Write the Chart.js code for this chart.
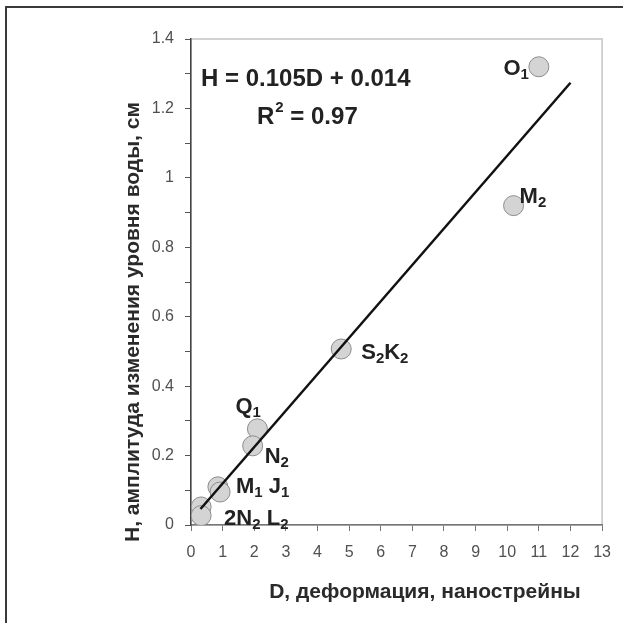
<!DOCTYPE html>
<html>
<head>
<meta charset="utf-8">
<script src="https://cdn.jsdelivr.net/npm/chart.js@4/dist/chart.umd.min.js"></script>
<style>
  html, body { margin: 0; padding: 0; background: #fff; }
  #wrap { position: relative; width: 623px; height: 623px; }
  #frame { position: absolute; left: 5px; top: 6px; right: 0; bottom: 0;
           border-top: 2px solid #3a3a3a; border-left: 2px solid #3a3a3a; }
  #wrap canvas { position: absolute; left: 0; top: 0; }
</style>
</head>
<body>
<div id="wrap">
  <div id="frame"></div>
  <canvas id="chart" width="623" height="623"></canvas>
</div>
<script>
// --- DATOS ---
const waveNames = ['O1', 'M2', 'S2K2', 'Q1', 'N2', 'M1', 'J1', '2N2', 'L2'];
const deformD = [11.0, 10.2, 4.75, 2.1, 1.95, 0.85, 0.92, 0.32, 0.32];
const amplitudeH = [1.32, 0.92, 0.507, 0.277, 0.228, 0.11, 0.095, 0.052, 0.027];
// подписи точек: [текст, индекс] пары (индекс = подстрочный)
const pointLabels = [
  [['O', '1']],
  [['M', '2']],
  [['S', '2'], ['K', '2']],
  [['Q', '1']],
  [['N', '2']],
  [['M', '1'], [' J', '1']],
  [],
  [],
  [['2N', '2'], [' L', '2']]
];
const trendD = [0.3, 12.0];
const trendH = [0.046, 1.274];
const xTicks = [0, 13, 1];
const yTicks = [0, 1.4, 0.1];
const xTitle = 'D, деформация, нанострейны';
const yTitle = 'H, амплитуда изменения уровня воды, см';
const eqText = 'H = 0.105D + 0.014';
const r2Text = ['R', '2', ' = 0.97'];

// смещения подписей относительно точки (px), базовая линия
const labelPlace = [
  { dx: -10, dy: 8, align: 'right' },
  { dx: 6, dy: -3, align: 'left' },
  { dx: 20, dy: 10, align: 'left' },
  { dx: -22, dy: -16, align: 'left' },
  { dx: 12, dy: 17, align: 'left' },
  { dx: 18, dy: 6, align: 'left' },
  null, null,
  { dx: 23, dy: 9, align: 'left' }
];

const FONT = '"Liberation Sans", Arial, sans-serif';

function drawSubText(ctx, parts, x, y, align, size) {
  const big = 'bold ' + size + 'px ' + FONT;
  const small = 'bold ' + Math.round(size * 0.68) + 'px ' + FONT;
  let total = 0;
  parts.forEach(p => {
    ctx.font = big; total += ctx.measureText(p[0]).width;
    ctx.font = small; total += ctx.measureText(p[1]).width;
  });
  let cx = align === 'right' ? x - total : x;
  ctx.textAlign = 'left';
  ctx.textBaseline = 'alphabetic';
  parts.forEach(p => {
    ctx.font = big; ctx.fillText(p[0], cx, y); cx += ctx.measureText(p[0]).width;
    ctx.font = small; ctx.fillText(p[1], cx, y + 4); cx += ctx.measureText(p[1]).width;
  });
}

const annotPlugin = {
  id: 'annot',
  beforeDraw(chart) {
    const { ctx, chartArea: a } = chart;
    ctx.save();
    ctx.strokeStyle = '#c4c4c4';
    ctx.lineWidth = 1.5;
    ctx.strokeRect(a.left, a.top, a.right - a.left, a.bottom - a.top);
    ctx.restore();
  },
  afterDatasetsDraw(chart) {
    const { ctx, chartArea: a, scales } = chart;
    ctx.save();
    ctx.fillStyle = '#222';
    // подписи точек
    pointLabels.forEach((parts, i) => {
      if (!parts.length) return;
      const pl = labelPlace[i];
      const px = scales.x.getPixelForValue(deformD[i]);
      const py = scales.y.getPixelForValue(amplitudeH[i]);
      drawSubText(ctx, parts, px + pl.dx, py + pl.dy, pl.align, 22);
    });
    // уравнение
    ctx.font = 'bold 24px ' + FONT;
    ctx.textAlign = 'left';
    ctx.fillText(eqText, a.left + 10, 86);
    ctx.fillText(r2Text[0], a.left + 66, 124);
    let w = ctx.measureText(r2Text[0]).width;
    ctx.font = 'bold 15px ' + FONT;
    ctx.fillText(r2Text[1], a.left + 67 + w, 112);
    const w2 = ctx.measureText(r2Text[1]).width;
    ctx.font = 'bold 24px ' + FONT;
    ctx.fillText(r2Text[2], a.left + 67 + w + w2, 124);
    // подписи осей
    ctx.fillStyle = '#2a2a2a';
    ctx.font = 'bold 21px ' + FONT;
    ctx.textAlign = 'center';
    ctx.textBaseline = 'middle';
    ctx.fillText(xTitle, 425, 592);
    ctx.translate(133, 322);
    ctx.rotate(-Math.PI / 2);
    ctx.fillText(yTitle, 0, 0);
    ctx.restore();
  }
};

const points = deformD.map((d, i) => ({ x: d, y: amplitudeH[i] }));
const trend = trendD.map((d, i) => ({ x: d, y: trendH[i] }));

new Chart(document.getElementById('chart'), {
  type: 'scatter',
  data: {
    datasets: [
      {
        type: 'line',
        data: trend,
        borderColor: '#111',
        borderWidth: 2.5,
        pointRadius: 0,
        fill: false,
        order: 0
      },
      {
        data: points,
        backgroundColor: '#d4d4d4',
        borderColor: '#8c8c8c',
        borderWidth: 1,
        pointRadius: 10,
        order: 1
      }
    ]
  },
  options: {
    responsive: false,
    animation: false,
    layout: { padding: { left: 0, top: 39, right: 20, bottom: 0 } },
    plugins: { legend: { display: false }, tooltip: { enabled: false } },
    scales: {
      x: {
        type: 'linear',
        min: xTicks[0], max: xTicks[1],
        afterFit(s) { s.height = 98; },
        border: { color: '#777', width: 1.5 },
        grid: { drawOnChartArea: false, drawTicks: true, tickLength: 6, color: '#777' },
        ticks: { stepSize: xTicks[2], padding: 12, color: '#505050', font: { family: FONT, size: 16 } }
      },
      y: {
        type: 'linear',
        min: yTicks[0], max: yTicks[1],
        afterFit(s) { s.width = 191; },
        border: { color: '#444', width: 1.5 },
        grid: { drawOnChartArea: false, drawTicks: true, tickLength: 6, color: '#555' },
        ticks: {
          stepSize: yTicks[2], padding: 11, color: '#505050', font: { family: FONT, size: 16 },
          callback: v => (Math.round(v * 10) % 2 === 0 ? String(+v.toFixed(1)) : '')
        }
      }
    }
  },
  plugins: [annotPlugin]
});
</script>
</body>
</html>
